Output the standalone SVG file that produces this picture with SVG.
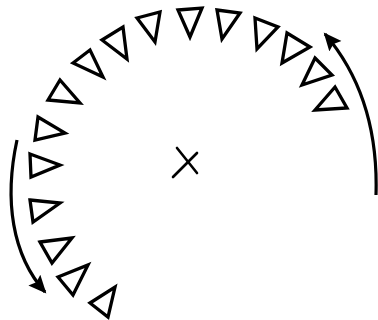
<svg xmlns="http://www.w3.org/2000/svg" width="378" height="320" viewBox="0 0 378 320">
<style>
.tri{fill:none;stroke:#000;stroke-width:3.3;stroke-linejoin:miter}
.arc{fill:none;stroke:#000;stroke-width:3.2}
.x{stroke:#000;stroke-width:2.6;stroke-linecap:round}
</style>
<defs>
<marker id="ah" markerUnits="userSpaceOnUse" markerWidth="22" markerHeight="18" refX="16" refY="8" orient="auto">
<path d="M0,0 L18,8 L0,16 L3,8 Z" fill="#000"/>
</marker>
</defs>
<rect width="378" height="320" fill="#fff"/>
<g id="t1"><polygon class="tri" points="90,303 115,287 108,317"/></g>
<g id="t2"><polygon class="tri" points="58,277 88,265 73,295"/></g>
<g id="t3"><polygon class="tri" points="40,242 72,238 52,263"/></g>
<g id="t4"><polygon class="tri" points="30,200 60,203 33,222"/></g>
<g id="t5"><polygon class="tri" points="30,154 60,165 31,177"/></g>
<g id="t6"><polygon class="tri" points="35,140 38,117 65,133"/></g>
<g id="t7"><polygon class="tri" points="48,100 60,80 80,103"/></g>
<g id="t8"><polygon class="tri" points="73,63 90,50 103,77"/></g>
<g id="t9"><polygon class="tri" points="102,40 123,27 127,59"/></g>
<g id="t10"><polygon class="tri" points="137,18 160,12 155,42"/></g>
<g id="t11"><polygon class="tri" points="178,10 202,8 190,37"/></g>
<g id="t12"><polygon class="tri" points="217,10 240,13 222,39"/></g>
<g id="t13"><polygon class="tri" points="255,18 278,27 257,49"/></g>
<g id="t14"><polygon class="tri" points="287,33 310,47 282,63"/></g>
<g id="t15"><polygon class="tri" points="315,58 332,75 302,85"/></g>
<g id="t16"><polygon class="tri" points="335,87 347,108 315,110"/></g>
<g id="center"><line class="x" x1="177" y1="148" x2="197" y2="173"/><line class="x" x1="197" y1="153" x2="173" y2="177"/></g>
<g id="connectors">
<path class="arc" d="M376,195 C378,130 360,75 325,34" marker-end="url(#ah)"/>
<path class="arc" d="M17,140 C4,200 12,255 45,292" marker-end="url(#ah)"/>
</g>
</svg>
